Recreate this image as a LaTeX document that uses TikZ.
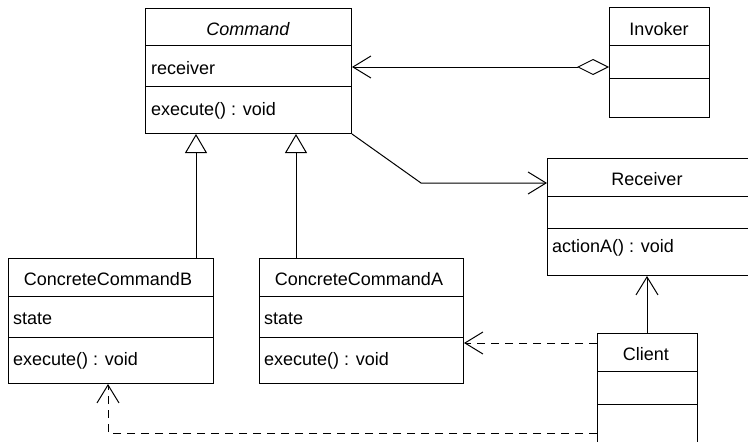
\documentclass[tikz,border=0pt]{standalone}
\usepackage{fontspec}
\setmainfont{Liberation Sans}
\usetikzlibrary{arrows.meta}

\newcommand{\umlfont}{\fontsize{18}{20}\selectfont}

\tikzset{
  cls/.style={draw, line width=1pt, anchor=north west, inner sep=0pt, fill=white},
  ttl/.style={inner sep=0pt, anchor=base, font=\umlfont},
  mbr/.style={inner sep=0pt, anchor=base west, font=\umlfont},
  conn/.style={line width=1pt},
  dep/.style={conn, dash pattern=on 8pt off 6pt},
  openarrow/.style={-{Straight Barb[length=18pt,width=22pt]}},
  inherit/.style={-{Triangle[open,length=19pt,width=22pt,fill=white]}},
  aggr/.style={{Diamond[open,length=32pt,width=16pt,fill=white]}-{Straight Barb[length=18pt,width=22pt]}},
}

\begin{document}
\begin{tikzpicture}[x=1pt, y=-1pt]
\useasboundingbox (0,0) rectangle (748,442);

% ---- classes ----
\node[cls, minimum width=206pt, minimum height=125pt] (cmd) at (145,8) {};
\draw[conn] (cmd.west |- 0,45) -- (cmd.east |- 0,45);
\draw[conn] (cmd.west |- 0,86) -- (cmd.east |- 0,86);
\node[ttl] (cmdT) at (248,35) {\itshape Command};
\node[mbr] (cmdA) at (151,74) {receiver};
\node[mbr] (cmdO) at (151,115) {execute() : void};

\node[cls, minimum width=100pt, minimum height=110pt] (inv) at (609,7) {};
\draw[conn] (inv.west |- 0,45) -- (inv.east |- 0,45);
\draw[conn] (inv.west |- 0,78) -- (inv.east |- 0,78);
\node[ttl] (invT) at (659,35) {Invoker};

\node[cls, minimum width=202pt, minimum height=117pt] (rcv) at (547,158) {};
\draw[conn] (rcv.west |- 0,196) -- (rcv.east |- 0,196);
\draw[conn] (rcv.west |- 0,228) -- (rcv.east |- 0,228);
\node[ttl] (rcvT) at (647,185) {Receiver};
\node[mbr] (rcvO) at (552,252) {actionA() : void};

\node[cls, minimum width=205pt, minimum height=125pt] (ccb) at (8,258) {};
\draw[conn] (ccb.west |- 0,296) -- (ccb.east |- 0,296);
\draw[conn] (ccb.west |- 0,337) -- (ccb.east |- 0,337);
\node[ttl] (ccbT) at (108,285) {ConcreteCommandB};
\node[mbr] (ccbA) at (13,324) {state};
\node[mbr] (ccbO) at (13,365) {execute() : void};

\node[cls, minimum width=204pt, minimum height=125pt] (cca) at (259,258) {};
\draw[conn] (cca.west |- 0,296) -- (cca.east |- 0,296);
\draw[conn] (cca.west |- 0,337) -- (cca.east |- 0,337);
\node[ttl] (ccaT) at (359,285) {ConcreteCommandA};
\node[mbr] (ccaA) at (264,324) {state};
\node[mbr] (ccaO) at (264,365) {execute() : void};

\node[cls, minimum width=100pt, minimum height=127pt] (cli) at (597,333) {};
\draw[conn] (cli.west |- 0,371) -- (cli.east |- 0,371);
\draw[conn] (cli.west |- 0,404) -- (cli.east |- 0,404);
\node[ttl] (cliT) at (646,360) {Client};

% ---- relationships ----
\draw[conn, aggr] (inv.west |- 0,67) -- (cmd.east |- 0,67);
\draw[conn, openarrow] (cmd.south east) -- (421,183) -- (rcv.west |- 0,183);
\draw[conn, inherit] (ccb.north -| 196,0) -- (cmd.south -| 196,0);
\draw[conn, inherit] (cca.north -| 296,0) -- (cmd.south -| 296,0);
\draw[conn, openarrow] (cli.north -| 647,0) -- (rcv.south -| 647,0);
\draw[dep, openarrow] (cli.west |- 0,343) -- (cca.east |- 0,343);
\draw[dep, openarrow] (cli.west |- 0,433) -- (108,433) -- (ccb.south -| 108,0);
\end{tikzpicture}
\end{document}
